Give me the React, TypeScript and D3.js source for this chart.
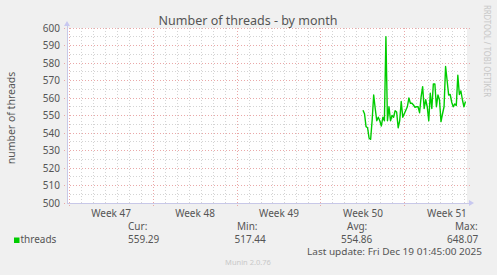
import React from "react";
import * as d3 from "d3";

// ---- data ----
const TITLE = "Number of threads - by month";
const Y_LABEL = "number of threads";
const WEEK_LABELS = ["Week 47", "Week 48", "Week 49", "Week 50", "Week 51"];
const WEEK_STARTS = [0, 7, 14, 21, 28]; // days since start of week 47
const Y_TICKS = [500, 510, 520, 530, 540, 550, 560, 570, 580, 590, 600];
const X_DOMAIN = [-0.17, 33.17]; // days
const Y_DOMAIN = [500, 600];
const START_DAY = 24.5;
const STEP_DAYS = 0.1275;
const THREADS = [
  553, 551, 543.6, 543, 537, 536.4, 547.4, 561.7, 554, 547, 549, 547, 544, 549, 547, 595,
  547, 555, 547, 550, 549, 552.7, 552, 543, 547, 558, 549, 551, 553, 555, 560, 557,
  557, 556, 554.7, 555, 555, 551.6, 560.7, 566.5, 554, 559, 555, 547, 562.7, 554, 568,
  568, 555, 561.7, 559, 546.5, 551, 555, 578, 570, 561.7, 562, 557.6, 555, 556.6, 555.7,
  573, 562, 564, 559, 555, 558,
];
const STAT_LABELS = ["Cur:", "Min:", "Avg:", "Max:"];
const STAT_VALUES = ["559.29", "517.44", "554.86", "648.07"];
const SERIES_NAME = "threads";
const LAST_UPDATE = "Last update: Fri Dec 19 01:45:00 2025";
const FOOTER = "Munin 2.0.76";
const WATERMARK = "RRDTOOL / TOBI OETIKER";

const W = 497;
const H = 275;
const PL = 67, PR = 467, PT = 28, PB = 203;
const FONT = "'Noto Sans', 'DejaVu Sans', sans-serif";
const TXT = "#555";

export default function App() {
  const x = d3.scaleLinear().domain(X_DOMAIN).range([PL, PR]);
  const y = d3.scaleLinear().domain(Y_DOMAIN).range([PB, PT]);
  const pts = THREADS.map((v, i) => [START_DAY + i * STEP_DAYS, v] as [number, number]);
  const line = d3.line<[number, number]>().x((d) => x(d[0])).y((d) => y(d[1]));

  const days = d3.range(0, 34);
  const minorY = d3.range(505, 600, 10);
  const statX = [128, 234.5, 341, 447];
  const statLabelX = [128, 237, 347, 455];

  return (
    <svg width={W} height={H} style={{ position: "absolute", left: 0, top: 0, display: "block" }}
      fontFamily={FONT}>
      <rect x={0} y={0} width={W} height={H} fill="#f0f0f0" />
      <rect x={PL} y={PT} width={PR - PL} height={PB - PT} fill="#ffffff" />
      {/* minor grid */}
      {days.filter((d) => !WEEK_STARTS.includes(d)).map((d) => (
        <line key={"vd" + d} x1={x(d)} x2={x(d)} y1={PT} y2={PB} stroke="#d4d4d4" strokeWidth={1}
          strokeDasharray="1,2" shapeRendering="crispEdges" />
      ))}
      {minorY.map((v) => (
        <line key={"hm" + v} x1={PL} x2={PR} y1={y(v)} y2={y(v)} stroke="#d4d4d4" strokeWidth={1}
          strokeDasharray="1,2" shapeRendering="crispEdges" />
      ))}
      {/* major grid */}
      {WEEK_STARTS.map((d) => (
        <line key={"vw" + d} x1={x(d)} x2={x(d)} y1={PT} y2={PB + 3} stroke="#eaa8a8" strokeWidth={1}
          strokeDasharray="1,2" shapeRendering="crispEdges" />
      ))}
      {Y_TICKS.map((v) => (
        <line key={"hM" + v} x1={PL - 3} x2={PR + 3} y1={y(v)} y2={y(v)} stroke="#eaa8a8" strokeWidth={1}
          strokeDasharray="1,2" shapeRendering="crispEdges" />
      ))}
      {/* axes */}
      <line x1={PL} x2={PR + 3} y1={PB} y2={PB} stroke="#c8c8e8" strokeWidth={1} shapeRendering="crispEdges" />
      <line x1={PL} x2={PL} y1={PB} y2={PT - 3} stroke="#c8c8e8" strokeWidth={1} shapeRendering="crispEdges" />
      <path d={`M${PR + 2},${PB - 3} L${PR + 7},${PB} L${PR + 2},${PB + 3} Z`} fill="#c8c8f0" />
      <path d={`M${PL - 3},${PT - 2} L${PL},${PT - 7} L${PL + 3},${PT - 2} Z`} fill="#c8c8f0" />
      {/* data */}
      <path d={line(pts) || ""} fill="none" stroke="#00cc00" strokeWidth={1.4} strokeLinejoin="round" />
      {/* y tick labels */}
      {Y_TICKS.map((v) => (
        <text key={"yl" + v} x={60} y={y(v) + 3.5} textAnchor="end" fontSize={10} fill={TXT}>{v}</text>
      ))}
      {/* x labels */}
      {WEEK_LABELS.map((l, i) => (
        <text key={l} x={x(WEEK_STARTS[i] + 3.5)} y={216.5} textAnchor="middle" fontSize={10} fill={TXT}>{l}</text>
      ))}
      {/* title */}
      <text x={248} y={25} textAnchor="middle" fontSize={12.5} fill={TXT}>{TITLE}</text>
      {/* y label */}
      <text transform={`translate(15,118) rotate(-90)`} textAnchor="middle" fontSize={10.5} fill={TXT}>{Y_LABEL}</text>
      {/* watermark */}
      <text transform={`translate(484,5) rotate(90)`} textAnchor="start" fontSize={8.5} fill="#c8c8c8"
        textLength={92} lengthAdjust="spacingAndGlyphs">{WATERMARK}</text>
      {/* legend */}
      <rect x={14} y={237.5} width={5.5} height={5.5} fill="#00cc00" />
      <text x={20.5} y={243} fontSize={10} fill={TXT}>{SERIES_NAME}</text>
      {STAT_LABELS.map((l, i) => (
        <text key={l} x={statLabelX[i]} y={230} fontSize={10} fill={TXT}>{l}</text>
      ))}
      {STAT_VALUES.map((v, i) => (
        <text key={"sv" + i} x={statX[i]} y={243} fontSize={10} fill={TXT}>{v}</text>
      ))}
      <text x={307} y={254.5} fontSize={9.6} fill={TXT} textLength={175} lengthAdjust="spacingAndGlyphs">{LAST_UPDATE}</text>
      <text x={248} y={265} textAnchor="middle" fontSize={7.5} fill="#c8c8c8">{FOOTER}</text>
    </svg>
  );
}
